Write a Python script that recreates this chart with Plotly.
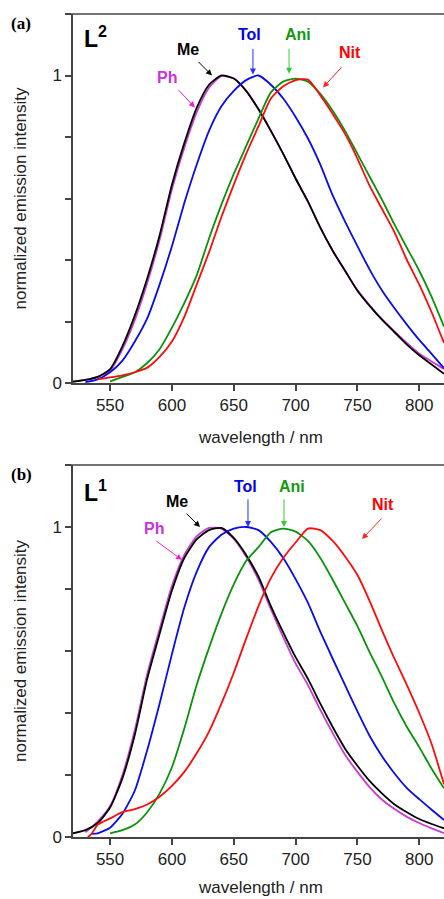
import plotly.graph_objects as go

# ---------------- data ----------------
wl = [520, 530, 540, 550, 560, 570, 580, 590, 600, 610, 620, 630, 640, 650, 660,
      670, 680, 690, 700, 710, 720, 730, 740, 750, 760, 770, 780, 790, 800, 810, 820]

# panel (a)  L2
a_me = [0.004, 0.01, 0.02, 0.045, 0.12, 0.22, 0.34, 0.48, 0.645, 0.78, 0.895, 0.97, 1.0, 0.99, 0.95,
        0.89, 0.82, 0.745, 0.665, 0.59, 0.505, 0.43, 0.365, 0.30, 0.25, 0.205, 0.165, 0.125, 0.09, 0.06, 0.03]
a_ph = [0.005, 0.01, 0.02, 0.04, 0.11, 0.205, 0.325, 0.465, 0.63, 0.765, 0.88, 0.96, 0.998, 0.99, 0.95,
        0.89, 0.82, 0.745, 0.665, 0.59, 0.505, 0.43, 0.365, 0.302, 0.252, 0.207, 0.168, 0.13, 0.095, 0.07, 0.045]
a_tol_wl = wl[1:]
a_tol = [0.003, 0.012, 0.035, 0.073, 0.135, 0.21, 0.32, 0.445, 0.585, 0.71, 0.82, 0.9, 0.95, 0.985,
         1.0, 0.97, 0.925, 0.865, 0.795, 0.71, 0.61, 0.525, 0.445, 0.368, 0.30, 0.243, 0.19, 0.14, 0.095, 0.048]
a_ani_wl = wl[3:]
a_ani = [0.005, 0.02, 0.035, 0.065, 0.11, 0.18, 0.26, 0.35, 0.47, 0.58, 0.68, 0.77, 0.86, 0.945, 0.98,
         0.99, 0.98, 0.94, 0.885, 0.82, 0.745, 0.67, 0.595, 0.515, 0.44, 0.365, 0.28, 0.183]
a_nit_wl = wl[2:]
a_nit = [0.012, 0.018, 0.025, 0.035, 0.05, 0.085, 0.135, 0.215, 0.32, 0.425, 0.54, 0.645, 0.745, 0.835,
         0.925, 0.965, 0.985, 0.987, 0.935, 0.875, 0.81, 0.73, 0.64, 0.565, 0.49, 0.40, 0.32, 0.23, 0.13]

# panel (b)  L1
b_me = [0.012, 0.022, 0.045, 0.095, 0.19, 0.33, 0.51, 0.655, 0.795, 0.9, 0.96, 0.99, 0.997, 0.965, 0.91,
        0.84, 0.745, 0.66, 0.58, 0.51, 0.43, 0.355, 0.285, 0.23, 0.18, 0.14, 0.105, 0.08, 0.058, 0.042, 0.028]
b_ph_wl = wl[1:]
b_ph = [0.015, 0.05, 0.1, 0.2, 0.345, 0.525, 0.67, 0.81, 0.91, 0.97, 0.997, 0.995, 0.962, 0.905,
        0.83, 0.735, 0.645, 0.56, 0.49, 0.41, 0.335, 0.265, 0.21, 0.16, 0.12, 0.09, 0.065, 0.045, 0.028, 0.012]
b_tol_wl = [535] + wl[2:]
b_tol = [0.01, 0.012, 0.03, 0.075, 0.15, 0.28, 0.43, 0.59, 0.74, 0.855, 0.935, 0.975, 0.995, 1.0,
         0.99, 0.952, 0.9, 0.832, 0.755, 0.662, 0.575, 0.49, 0.405, 0.325, 0.26, 0.205, 0.158, 0.122, 0.088, 0.055]
b_ani_wl = wl[3:]
b_ani = [0.012, 0.022, 0.04, 0.08, 0.14, 0.225, 0.35, 0.49, 0.61, 0.72, 0.815, 0.89, 0.935, 0.983,
         0.995, 0.985, 0.955, 0.9, 0.83, 0.755, 0.68, 0.595, 0.515, 0.43, 0.355, 0.29, 0.22, 0.157]
b_nit_wl = [532, 535] + wl[2:]
b_nit = [0.0, 0.01, 0.04, 0.06, 0.08, 0.09, 0.105, 0.13, 0.165, 0.21, 0.27, 0.34, 0.43, 0.53, 0.64,
         0.745, 0.835, 0.9, 0.95, 0.995, 0.99, 0.955, 0.905, 0.845, 0.76, 0.665, 0.575, 0.49, 0.40, 0.30, 0.17]

labels = ["Ph", "Me", "Tol", "Ani", "Nit"]
colors = {"Ph": "#c83cd2", "Me": "#000000", "Tol": "#0a0aee", "Ani": "#0a920a", "Nit": "#ff0a0a"}
text_colors = {"Ph": "#cc33dd", "Me": "#000000", "Tol": "#0000ee", "Ani": "#119911", "Nit": "#ff0000"}
arrow_colors = {"Ph": "#ee22cc", "Me": "#000000", "Tol": "#2233ff", "Ani": "#33cc33", "Nit": "#ff2222"}

W, H = 444, 899
px_left = 73
top_dom = [1 - 383 / H, 1 - 14 / H]
bot_dom = [1 - 837 / H, 1 - 465 / H]

fig = go.Figure()

series_a = {"Ph": (wl, a_ph), "Me": (wl, a_me), "Tol": (a_tol_wl, a_tol),
            "Ani": (a_ani_wl, a_ani), "Nit": (a_nit_wl, a_nit)}
series_b = {"Ph": (b_ph_wl, b_ph), "Me": (wl, b_me), "Tol": (b_tol_wl, b_tol),
            "Ani": (b_ani_wl, b_ani), "Nit": (b_nit_wl, b_nit)}

for name in labels:
    x, y = series_a[name]
    fig.add_trace(go.Scatter(x=x, y=y, mode="lines", xaxis="x", yaxis="y",
                             line=dict(color=colors[name], width=1.8, shape="spline", smoothing=0.6),
                             showlegend=False))
for name in labels:
    x, y = series_b[name]
    fig.add_trace(go.Scatter(x=x, y=y, mode="lines", xaxis="x2", yaxis="y2",
                             line=dict(color=colors[name], width=1.8, shape="spline", smoothing=0.6),
                             showlegend=False))

axis_color = "#444444"
font_family = "Liberation Sans, Arial, sans-serif"
xcommon = dict(range=[520, 820], tickvals=[550, 600, 650, 700, 750, 800],
               ticks="outside", ticklen=6, tickwidth=1.5, tickcolor=axis_color,
               showline=True, linecolor=axis_color, linewidth=1.5, showgrid=False,
               zeroline=False, tickfont=dict(size=17, color="#222222", family=font_family),
               domain=[px_left / W, 1], automargin=False)
ycommon = dict(range=[0, 1.2], tickvals=[0, 0.2, 0.4, 0.6, 0.8, 1.0, 1.2],
               ticktext=["0", "", "", "", "", "1", ""],
               ticks="outside", ticklen=6, tickwidth=1.5, tickcolor=axis_color,
               showline=True, linecolor=axis_color, linewidth=1.5, showgrid=False,
               zeroline=False, tickfont=dict(size=17, color="#222222", family=font_family),
               automargin=False)

fig.update_layout(
    width=W, height=H,
    margin=dict(l=0, r=0, t=0, b=0),
    paper_bgcolor="white", plot_bgcolor="white",
    xaxis=dict(anchor="y", **xcommon),
    yaxis=dict(anchor="x", domain=top_dom, **ycommon),
    xaxis2=dict(anchor="y2", **xcommon),
    yaxis2=dict(anchor="x2", domain=bot_dom, **ycommon),
    showlegend=False,
)

# top frame lines
for ydom in (top_dom, bot_dom):
    fig.add_shape(type="line", xref="paper", yref="paper",
                  x0=(px_left - 6) / W, x1=1, y0=ydom[1], y1=ydom[1],
                  line=dict(color=axis_color, width=1.5))

C = dict(xanchor="center", yanchor="middle")
ann = []
# axis titles
for ydom, yt in ((top_dom, 1 - 437 / H), (bot_dom, 1 - 887 / H)):
    ann.append(dict(text="wavelength / nm", xref="paper", yref="paper", x=260 / W, y=yt,
                    showarrow=False, font=dict(size=17, color="#222222", family=font_family), **C))
    ann.append(dict(text="normalized emission intensity", xref="paper", yref="paper",
                    x=20 / W, y=(ydom[0] + ydom[1]) / 2, textangle=-90, showarrow=False,
                    font=dict(size=17, color="#222222", family=font_family), **C))

# panel labels
serif = "Liberation Serif, Times New Roman, serif"
ann.append(dict(text="<b>(a)</b>", xref="paper", yref="paper", x=21 / W, y=1 - 23 / H,
                showarrow=False, font=dict(size=17, color="black", family=serif), **C))
ann.append(dict(text="<b>(b)</b>", xref="paper", yref="paper", x=21 / W, y=1 - 474 / H,
                showarrow=False, font=dict(size=17, color="black", family=serif), **C))
ann.append(dict(text="<b>L<sup>2</sup></b>", xref="x", yref="y", x=538, y=1.125,
                showarrow=False, font=dict(size=23, color="black", family=font_family), **C))
ann.append(dict(text="<b>L<sup>1</sup></b>", xref="x2", yref="y2", x=538, y=1.117,
                showarrow=False, font=dict(size=23, color="black", family=font_family), **C))

# curve labels: (text x, text y, arrow tail x, tail y, head x, head y)
lab_a = {"Ph": (596.4, 0.995, 604.1, 0.958, 618.6, 0.896),
         "Me": (613.0, 1.084, 620.3, 1.049, 632.4, 1.0),
         "Tol": (662.7, 1.133, 665.5, 1.091, 665.5, 1.003),
         "Ani": (701.9, 1.133, 694.7, 1.091, 694.7, 1.006),
         "Nit": (743.6, 1.075, 738.3, 1.032, 722.2, 0.961)}
lab_b = {"Ph": (585.1, 0.995, 586.3, 0.958, 608.1, 0.894),
         "Me": (604.1, 1.081, 610.6, 1.048, 622.7, 1.0),
         "Tol": (659.1, 1.132, 661.5, 1.094, 661.5, 1.0),
         "Ani": (697.1, 1.132, 690.6, 1.094, 690.6, 1.0),
         "Nit": (770.3, 1.071, 770.7, 1.032, 753.7, 0.961)}

for (xr, yr, labs) in (("x", "y", lab_a), ("x2", "y2", lab_b)):
    for name, (tx, ty, ax, ay, hx, hy) in labs.items():
        ann.append(dict(text="<b>%s</b>" % name, xref=xr, yref=yr, x=tx, y=ty, showarrow=False,
                        font=dict(size=16, color=text_colors[name], family=font_family), **C))
        ann.append(dict(text="", xref=xr, yref=yr, x=hx, y=hy, ax=ax, ay=ay,
                        axref=xr, ayref=yr, showarrow=True, arrowhead=2, arrowsize=1.2,
                        arrowwidth=1, arrowcolor=arrow_colors[name]))

fig.update_layout(annotations=ann)
fig.write_html("out.html", config={"displayModeBar": False},
               post_script="document.body.style.margin='0';document.body.style.overflow='hidden';")
